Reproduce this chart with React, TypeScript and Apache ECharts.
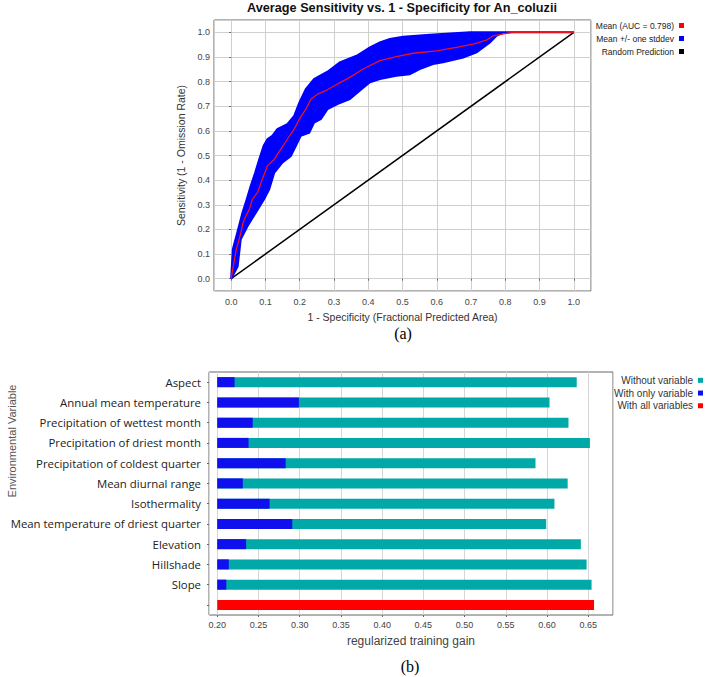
import React, { useEffect, useRef } from "react";
import * as echarts from "echarts";

// ---------- (a) ROC chart data ----------
const rocTitle = "Average Sensitivity vs. 1 - Specificity for An_coluzii";
const rocXName = "1 - Specificity (Fractional Predicted Area)";
const rocYName = "Sensitivity (1 - Omission Rate)";
const rocLegend = ["Mean (AUC = 0.798)", "Mean +/- one stddev", "Random Prediction"];

const meanX = [0, 0.008, 0.015, 0.026, 0.035, 0.043, 0.053, 0.062, 0.077, 0.091, 0.106, 0.126, 0.145, 0.164, 0.184, 0.199, 0.218, 0.233, 0.252, 0.276, 0.31, 0.346, 0.385, 0.434, 0.482, 0.531, 0.599, 0.657, 0.706, 0.745, 0.764, 0.803, 0.823, 1.0];
const meanY = [0, 0.065, 0.119, 0.173, 0.228, 0.254, 0.282, 0.322, 0.35, 0.404, 0.458, 0.485, 0.526, 0.566, 0.607, 0.648, 0.688, 0.729, 0.749, 0.763, 0.79, 0.817, 0.851, 0.885, 0.901, 0.915, 0.925, 0.939, 0.952, 0.968, 0.986, 0.996, 1.0, 1.0];

const upperX = [0, 0.005, 0.018, 0.033, 0.045, 0.057, 0.07, 0.082, 0.095, 0.106, 0.12, 0.135, 0.164, 0.184, 0.199, 0.218, 0.242, 0.281, 0.317, 0.366, 0.405, 0.434, 0.463, 0.502, 0.58, 0.697, 0.823, 1.0];
const upperY = [0, 0.12, 0.187, 0.268, 0.32, 0.376, 0.43, 0.485, 0.54, 0.566, 0.58, 0.607, 0.627, 0.661, 0.715, 0.77, 0.81, 0.84, 0.878, 0.905, 0.939, 0.959, 0.973, 0.982, 0.99, 1.0, 1.0, 1.0];

const lowerX = [0, 0.019, 0.028, 0.048, 0.072, 0.096, 0.111, 0.126, 0.15, 0.174, 0.189, 0.203, 0.228, 0.242, 0.262, 0.281, 0.31, 0.346, 0.375, 0.405, 0.434, 0.482, 0.521, 0.55, 0.589, 0.618, 0.677, 0.716, 0.755, 0.774, 0.794, 0.823, 1.0];
const lowerY = [0, 0.05, 0.16, 0.214, 0.268, 0.322, 0.363, 0.431, 0.472, 0.498, 0.539, 0.58, 0.593, 0.634, 0.648, 0.688, 0.709, 0.729, 0.763, 0.797, 0.81, 0.824, 0.83, 0.851, 0.871, 0.878, 0.898, 0.919, 0.959, 0.986, 1.0, 1.0, 1.0];

const randomX = [0, 1];
const randomY = [0, 1];

// ---------- (b) jackknife chart data ----------
const variables = [
  "Aspect",
  "Annual mean temperature",
  "Precipitation of wettest month",
  "Precipitation of driest month",
  "Precipitation of coldest quarter",
  "Mean diurnal range",
  "Isothermality",
  "Mean temperature of driest quarter",
  "Elevation",
  "Hillshade",
  "Slope",
  "",
];
const withoutVariable = [0.636, 0.603, 0.626, 0.652, 0.586, 0.625, 0.609, 0.599, 0.641, 0.648, 0.654];
const withOnlyVariable = [0.221, 0.299, 0.243, 0.238, 0.283, 0.231, 0.2635, 0.291, 0.235, 0.214, 0.211];
const withAllVariables = 0.657;
const gainBase = 0.2;
const gainLegend = ["Without variable", "With only variable", "With all variables"];
const gainXName = "regularized training gain";
const gainYName = "Environmental Variable";

const SANS = "'Liberation Sans', Arial, sans-serif";
const TEAL = "#00a8a8";
const BLUE = "#0000ff";
const RED = "#ff0000";

function zip(xs: number[], ys: number[]) {
  return xs.map((x, i) => [x, ys[i]]);
}

export default function App() {
  const ref = useRef<HTMLDivElement>(null);

  useEffect(() => {
    document.body.style.margin = "0";
    if (!ref.current) return;
    const chart = echarts.init(ref.current, undefined, { renderer: "svg" });

    const nCat = variables.length;
    const baseData = variables.map(() => gainBase);
    const tealData = variables.map((_, i) => (i < withoutVariable.length ? withoutVariable[i] - gainBase : "-"));
    const blueData = variables.map((_, i) => (i < withOnlyVariable.length ? withOnlyVariable[i] - gainBase : "-"));
    const redData = variables.map((_, i) => (i === nCat - 1 ? withAllVariables - gainBase : "-"));

    const fmt1 = (v: number) => (Math.abs(v * 10 - Math.round(v * 10)) < 1e-6 ? v.toFixed(1) : "");
    const fmt2 = (v: number) => (Math.abs(v * 20 - Math.round(v * 20)) < 1e-6 ? v.toFixed(2) : "");

    const upperPts = zip(upperX, upperY);
    const lowerPts = zip(lowerX, lowerY);

    const option: any = {
      animation: false,
      backgroundColor: "#ffffff",
      title: {
        text: rocTitle,
        left: 402,
        textAlign: "center",
        top: 1,
        padding: 0,
        textStyle: { fontFamily: SANS, fontSize: 12.7, fontWeight: "bold", color: "#111" },
      },
      legend: [
        {
          data: rocLegend,
          orient: "vertical",
          right: 24,
          top: 19,
          padding: 0,
          align: "right",
          icon: "rect",
          itemWidth: 5,
          itemHeight: 5,
          itemGap: 0,
          selectedMode: false,
          textStyle: { fontFamily: SANS, fontSize: 8.5, lineHeight: 13, color: "#222" },
        },
        {
          data: gainLegend,
          orient: "vertical",
          right: 5,
          top: 374,
          padding: 0,
          align: "right",
          icon: "rect",
          itemWidth: 5,
          itemHeight: 5,
          itemGap: 0,
          selectedMode: false,
          textStyle: { fontFamily: SANS, fontSize: 10, lineHeight: 12.7, color: "#333" },
        },
      ],
      grid: [
        { left: 214, top: 20, width: 377, height: 271, show: true, borderColor: "#666", borderWidth: 1, backgroundColor: "#fff" },
        { left: 209, top: 372, width: 404, height: 243, show: true, borderColor: "#666", borderWidth: 1, backgroundColor: "#fff" },
      ],
      xAxis: [
        {
          type: "value",
          gridIndex: 0,
          min: -0.05,
          max: 1.05,
          splitNumber: 11,
          axisLine: { show: false },
          axisTick: { show: true, length: 2, lineStyle: { color: "#666" } },
          axisLabel: { fontFamily: SANS, fontSize: 9, color: "#444", margin: 6, formatter: fmt1, showMinLabel: false, showMaxLabel: false },
          splitLine: { show: true, lineStyle: { color: "#cfcfcf", width: 1 } },
          name: rocXName,
          nameLocation: "middle",
          nameGap: 20,
          nameTextStyle: { fontFamily: SANS, fontSize: 10.5, color: "#333" },
        },
        {
          type: "value",
          gridIndex: 1,
          min: 0.19,
          max: 0.68,
          splitNumber: 10,
          axisLine: { show: false },
          axisTick: { show: true, length: 2, lineStyle: { color: "#666" } },
          axisLabel: { fontFamily: SANS, fontSize: 9, color: "#444", margin: 5, formatter: fmt2, showMinLabel: false, showMaxLabel: false },
          splitLine: { show: true, lineStyle: { color: "#d6d6d6", width: 1 } },
          name: gainXName,
          nameLocation: "middle",
          nameGap: 20,
          nameTextStyle: { fontFamily: SANS, fontSize: 12, color: "#444" },
        },
      ],
      yAxis: [
        {
          type: "value",
          gridIndex: 0,
          min: -0.05,
          max: 1.05,
          splitNumber: 11,
          axisLine: { show: false },
          axisTick: { show: true, length: 2, lineStyle: { color: "#666" } },
          axisLabel: { fontFamily: SANS, fontSize: 9, color: "#444", margin: 4, formatter: fmt1, showMinLabel: false, showMaxLabel: false },
          splitLine: { show: true, lineStyle: { color: "#cfcfcf", width: 1 } },
          name: rocYName,
          nameLocation: "middle",
          nameGap: 27,
          nameRotate: 90,
          nameTextStyle: { fontFamily: SANS, fontSize: 10.5, color: "#333" },
        },
        {
          type: "category",
          gridIndex: 1,
          data: variables,
          inverse: true,
          axisLine: { show: false },
          axisTick: { show: true, length: 2, alignWithLabel: true, lineStyle: { color: "#666" } },
          axisLabel: { fontFamily: "'Open Sans', sans-serif", fontSize: 11.4, color: "#222", margin: 8, interval: 0 },
          splitLine: { show: false },
        },
      ],
      series: [
        {
          type: "line",
          name: rocLegend[2],
          xAxisIndex: 0,
          yAxisIndex: 0,
          data: zip(randomX, randomY),
          showSymbol: false,
          symbol: "none",
          color: "#000",
          lineStyle: { color: "#000", width: 1.5 },
          z: 2,
        },
        {
          type: "custom",
          name: rocLegend[1],
          xAxisIndex: 0,
          yAxisIndex: 0,
          data: [[0, 0]],
          color: BLUE,
          itemStyle: { color: BLUE },
          clip: true,
          z: 3,
          renderItem: (params: any, api: any) => {
            const pts: number[][] = [];
            upperPts.forEach((p) => pts.push(api.coord(p)));
            for (let i = lowerPts.length - 1; i >= 0; i--) pts.push(api.coord(lowerPts[i]));
            return {
              type: "polygon",
              shape: { points: pts },
              style: { fill: BLUE, stroke: BLUE, lineWidth: 2, lineJoin: "miter" },
            };
          },
        },
        {
          type: "line",
          name: rocLegend[0],
          xAxisIndex: 0,
          yAxisIndex: 0,
          data: zip(meanX, meanY),
          showSymbol: false,
          symbol: "none",
          color: RED,
          lineStyle: { color: "#ee1122", width: 1.3 },
          z: 4,
        },
        {
          type: "bar",
          name: "_baseW",
          xAxisIndex: 1,
          yAxisIndex: 1,
          stack: "w",
          data: baseData,
          barWidth: 10,
          barGap: "-100%",
          itemStyle: { color: "rgba(0,0,0,0)" },
          silent: true,
        },
        {
          type: "bar",
          name: gainLegend[0],
          xAxisIndex: 1,
          yAxisIndex: 1,
          stack: "w",
          data: tealData,
          barWidth: 10,
          barGap: "-100%",
          color: TEAL,
          itemStyle: { color: TEAL },
        },
        {
          type: "bar",
          name: "_baseO",
          xAxisIndex: 1,
          yAxisIndex: 1,
          stack: "o",
          data: baseData,
          barWidth: 10,
          barGap: "-100%",
          itemStyle: { color: "rgba(0,0,0,0)" },
          silent: true,
        },
        {
          type: "bar",
          name: gainLegend[1],
          xAxisIndex: 1,
          yAxisIndex: 1,
          stack: "o",
          data: blueData,
          barWidth: 10,
          barGap: "-100%",
          color: "#1010ee",
          itemStyle: { color: "#1010ee" },
        },
        {
          type: "bar",
          name: "_baseR",
          xAxisIndex: 1,
          yAxisIndex: 1,
          stack: "r",
          data: baseData,
          barWidth: 10,
          barGap: "-100%",
          itemStyle: { color: "rgba(0,0,0,0)" },
          silent: true,
        },
        {
          type: "bar",
          name: gainLegend[2],
          xAxisIndex: 1,
          yAxisIndex: 1,
          stack: "r",
          data: redData,
          barWidth: 10,
          barGap: "-100%",
          color: RED,
          itemStyle: { color: RED },
        },
      ],
      graphic: [
        {
          type: "text",
          x: 403,
          y: 333,
          style: { text: "(a)", font: "16px 'Liberation Serif', 'Times New Roman', serif", fill: "#000", align: "center", verticalAlign: "middle" },
        },
        {
          type: "text",
          x: 410,
          y: 666,
          style: { text: "(b)", font: "16px 'Liberation Serif', 'Times New Roman', serif", fill: "#000", align: "center", verticalAlign: "middle" },
        },
        {
          type: "text",
          x: 12,
          y: 441,
          rotation: Math.PI / 2,
          style: { text: gainYName, font: "11px 'Liberation Sans', Arial, sans-serif", fill: "#555", align: "center", verticalAlign: "middle" },
        },
      ],
    };

    chart.setOption(option);
    return () => {
      chart.dispose();
    };
  }, []);

  return <div ref={ref} style={{ width: 708, height: 677 }} />;
}
